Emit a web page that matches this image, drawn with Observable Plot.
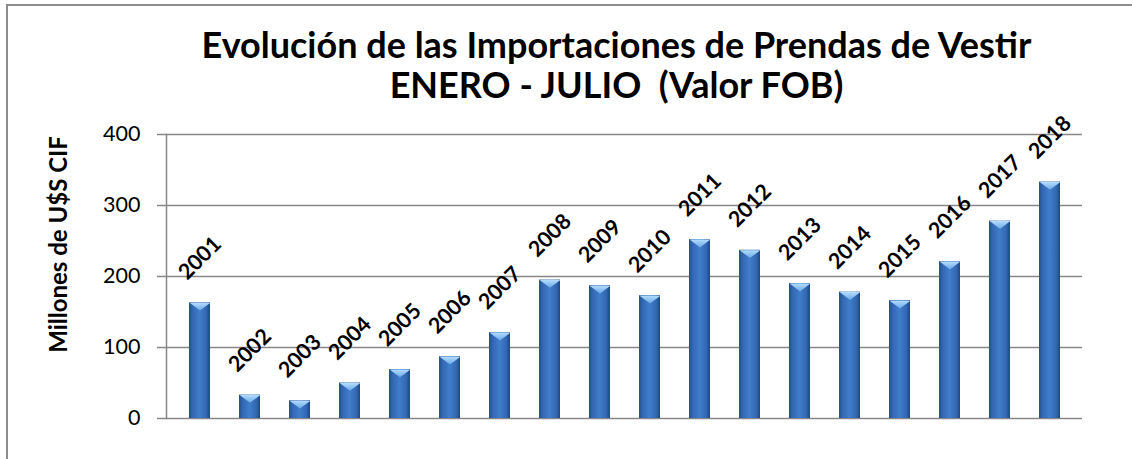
<!DOCTYPE html>
<html>
<head>
<meta charset="utf-8">
<script src="https://cdn.jsdelivr.net/npm/d3@7"></script>
<script src="https://cdn.jsdelivr.net/npm/@observablehq/plot@0.6"></script>
<style>
  html, body { margin: 0; padding: 0; background: #fff; overflow: hidden; }
  #wrap { position: relative; width: 1132px; height: 459px; overflow: hidden; }
  #border { position: absolute; left: 6px; top: 4px; width: 1300px; height: 700px; border: 2px solid #8c8c8c; box-sizing: border-box; pointer-events: none; }
  #chart { position: absolute; left: 0; top: 0; }
</style>
</head>
<body>
<div id="wrap"><div id="chart"></div><div id="border"></div></div>
<script>
const titleLines = ["Evolución de las Importaciones de Prendas de Vestir", "ENERO - JULIO  (Valor FOB)"];
const yLabel = "Millones de U$S CIF";
const years = ["2001","2002","2003","2004","2005","2006","2007","2008","2009","2010","2011","2012","2013","2014","2015","2016","2017","2018"];
const values = [163, 33, 25, 50, 69, 87, 121, 195, 187, 173, 252, 237, 190, 178, 166, 221, 278, 333];
const yTicks = [0, 100, 200, 300, 400];

const data = years.map((y, i) => ({year: y, value: values[i]}));
const FONT = "Lato, sans-serif";
const GRID = "#878787";

const capSymbol = {
  draw(context, size) {
    const w = Math.sqrt(size / Math.PI);
    context.moveTo(-w, 0);
    context.lineTo(w, 0);
    context.lineTo(0, w * 0.75);
    context.closePath();
  }
};

const svg = Plot.plot({
  width: 1132,
  height: 459,
  marginLeft: 166,
  marginRight: 50,
  marginTop: 134,
  marginBottom: 41,
  style: {fontFamily: FONT, background: "transparent", overflow: "visible"},
  x: {domain: years, paddingInner: 0.59, paddingOuter: 0.295, axis: null},
  y: {domain: [0, 400], axis: null},
  marks: [
    Plot.gridY(yTicks, {stroke: GRID, strokeOpacity: 1, strokeWidth: 1.5}),
    Plot.frame({anchor: "left", stroke: GRID, strokeWidth: 1.5}),
    Plot.axisY(yTicks, {tickSize: 9, tickPadding: 17, stroke: GRID, strokeWidth: 1.5, fill: "black", fontSize: 21.5, tickFormat: d => String(d), label: null}),
    Plot.barY(data, {x: "year", y: "value", fill: "url(#barGrad)"}),
    Plot.dot(data, {x: "year", y: "value", symbol: capSymbol, r: 10.4, fill: "url(#capGrad)", stroke: null}),
    Plot.text(data, {x: "year", y: "value", text: "year", rotate: -45, dy: -44.5, textAnchor: "middle", lineAnchor: "middle", fontSize: 21.5, fontWeight: "bold", fill: "black"}),
    Plot.text([yLabel], {frameAnchor: "left", rotate: -90, dx: -107.5, dy: -32, textAnchor: "middle", lineAnchor: "middle", fontSize: 24, fontWeight: "bold", fill: "black"}),
    Plot.text([titleLines.join("\n")], {frameAnchor: "top", dx: -8, dy: -37, textAnchor: "middle", lineAnchor: "bottom", lineHeight: 1.11, fontSize: 36, fontWeight: "bold", fill: "black"})
  ]
});

const ns = "http://www.w3.org/2000/svg";
const defs = document.createElementNS(ns, "defs");
defs.innerHTML = `
  <linearGradient id="barGrad" x1="0" y1="0" x2="1" y2="0">
    <stop offset="0" stop-color="#22508f"/>
    <stop offset="0.18" stop-color="#3468b2"/>
    <stop offset="0.5" stop-color="#407dcb"/>
    <stop offset="0.82" stop-color="#3468b2"/>
    <stop offset="1" stop-color="#1e4780"/>
  </linearGradient>
  <linearGradient id="capGrad" x1="0" y1="0" x2="0" y2="1">
    <stop offset="0" stop-color="#b3dcfc"/>
    <stop offset="1" stop-color="#6aa9e8"/>
  </linearGradient>`;
svg.insertBefore(defs, svg.firstChild);
document.getElementById("chart").appendChild(svg);
</script>
</body>
</html>
